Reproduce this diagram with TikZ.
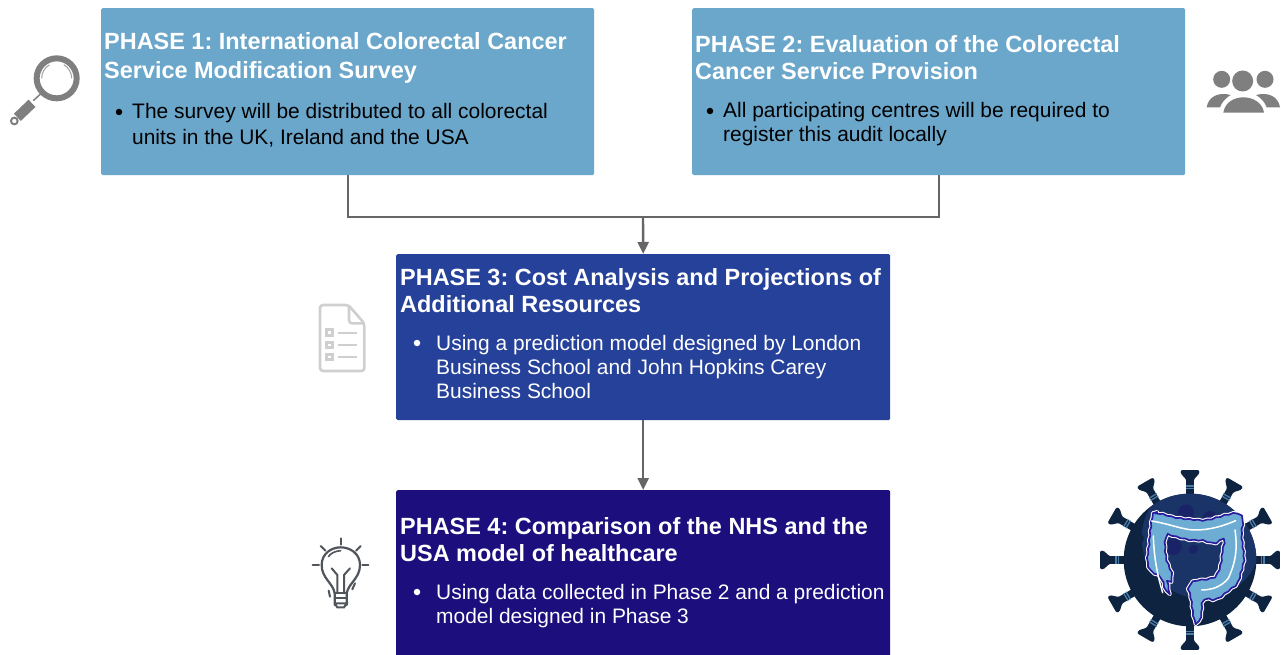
\documentclass[tikz,border=0pt]{standalone}
\usepackage{fontspec}
\setmainfont{Liberation Sans}
\usetikzlibrary{arrows.meta,decorations.pathmorphing}
\definecolor{lightbox}{HTML}{6BA6CB}
\definecolor{midbox}{HTML}{26419A}
\definecolor{darkbox}{HTML}{1C0E7C}
\definecolor{conn}{HTML}{666666}
\definecolor{icongrey}{HTML}{7F7F7F}
\definecolor{docgrey}{HTML}{CFCFCF}
\definecolor{bulbgrey}{HTML}{50555B}
\definecolor{virusdark}{HTML}{0E2340}
\definecolor{virusmid}{HTML}{1B3467}
\definecolor{virusspot}{HTML}{1A2268}
\definecolor{colonblue}{HTML}{6DADD3}
\definecolor{colonline}{HTML}{2A1C9C}
\tikzset{
  x=1pt,y=-1pt,
  phasebox/.style={rectangle,rounded corners=1.5pt,inner sep=0pt,anchor=north west},
  titletext/.style={inner sep=0pt,anchor=north west,align=left,font=\fontsize{23.45}{27}\selectfont\bfseries},
  bodytext/.style={inner sep=0pt,anchor=north west,align=left,font=\fontsize{20.95}{24}\selectfont},
  dotmark/.style={circle,inner sep=0pt,minimum size=6.5pt},
  connector/.style={draw=conn,line width=2.4pt},
  arrowed/.style={connector,-{Triangle[length=12pt,width=11pt]}},
  colonband/.style={line join=round,decorate,decoration={snake,amplitude=0.5pt,segment length=9pt}},
}
\frenchspacing
\begin{document}
\begin{tikzpicture}
\useasboundingbox (0,0) rectangle (1281,655);
\clip (0,0) rectangle (1281,655);
\fill[white] (0,0) rectangle (1281,655);
% boxes
\node[phasebox,fill=lightbox,minimum width=493pt,minimum height=167pt] (b1) at (101,8) {};
\node[phasebox,fill=lightbox,minimum width=493pt,minimum height=167pt] (b2) at (692,8) {};
\node[phasebox,fill=midbox,minimum width=494pt,minimum height=166pt] (b3) at (396,254) {};
\node[phasebox,fill=darkbox,minimum width=494pt,minimum height=175pt] (b4) at (396,490) {};
% connectors
\coordinate (m) at (643,217);
\draw[connector,line join=miter] (b1.south) |- (m) -| (b2.south);
\draw[arrowed] (m) -- (b3.north);
\draw[arrowed] (b3.south) -- (b4.north);
% texts
\node[titletext,white] (t1) at (104,32) {PHASE 1: International Colorectal Cancer\\[2pt]Service Modification Survey};
\node[dotmark,fill=black] (d1) at (119,112) {};
\node[bodytext,black,font=\fontsize{20.95}{26}\selectfont] (x1) at (132,103) {The survey will be distributed to all colorectal\\units in the UK, Ireland and the USA};
\node[titletext,white] (t2) at (695,35) {PHASE 2: Evaluation of the Colorectal\\Cancer Service Provision};
\node[dotmark,fill=black] (d2) at (710,111) {};
\node[bodytext,black] (x2) at (723,102) {All participating centres will be required to\\register this audit locally};
\node[titletext,white] (t3) at (400,268) {PHASE 3: Cost Analysis and Projections of\\Additional Resources};
\node[dotmark,fill=white] (d3) at (417,343) {};
\node[bodytext,white] (x3) at (436,335) {Using a prediction model designed by London\\Business School and John Hopkins Carey\\Business School};
\node[titletext,white] (t4) at (400,517) {PHASE 4: Comparison of the NHS and the\\USA model of healthcare};
\node[dotmark,fill=white] (d4) at (417,592) {};
\node[bodytext,white] (x4) at (436,584) {Using data collected in Phase 2 and a prediction\\model designed in Phase 3};
% magnifier
\begin{scope}[shift={(0,40)},x=0.3333pt,y=-0.3333pt]
  \draw[icongrey,line width=6pt] (170,115) circle (60);
  \draw[icongrey!70,line width=1.1pt] (125,115) arc (180:240:47);
  \draw[icongrey!70,line width=1.1pt] (215,115) arc (0:-60:47);
  \draw[icongrey,line width=1.5pt] (128,156) -- (100,182);
  \draw[icongrey,line width=10pt] (96,190) -- (52,232);
  \draw[icongrey,line width=2pt,fill=white] (43,243) circle (10);
\end{scope}
% people
\begin{scope}[shift={(1190,50)},x=0.3333pt,y=-0.3333pt,fill=icongrey]
  \fill (95,88) circle (8.5pt);
  \fill (225,88) circle (8.5pt);
  \fill (158,93) circle (10.5pt);
  \fill (50,172) .. controls (55,140) and (85,125) .. (122,135) .. controls (105,145) and (95,158) .. (90,172) -- cycle;
  \fill (270,172) .. controls (265,140) and (235,125) .. (198,135) .. controls (215,145) and (225,158) .. (230,172) -- cycle;
  \fill (100,188) .. controls (105,155) and (135,142) .. (160,142) .. controls (185,142) and (217,155) .. (222,188) -- cycle;
\end{scope}
% document
\begin{scope}[shift={(300,295)},x=0.3333pt,y=-0.3333pt]
  \draw[docgrey,line width=2.6pt,rounded corners=3pt,line join=round] (145,30) -- (60,30) -- (60,228) -- (193,228) -- (193,85) -- cycle;
  \draw[docgrey,line width=2.6pt,rounded corners=3pt] (147,32) -- (147,85) -- (193,85);
  \foreach \yy in {113,150,187}{
    \draw[docgrey,line width=3pt] (80,\yy-8) rectangle (96,\yy+8);
    \draw[docgrey,line width=2.2pt] (113,\yy) -- (172,\yy);
  }
\end{scope}
% bulb
\begin{scope}[shift={(300,530)},x=0.3333pt,y=-0.3333pt,draw=bulbgrey]
  \draw[line width=2.2pt,line cap=round] (104,225) -- (104,190) .. controls (100,160) and (65,145) .. (65,105) .. controls (65,70) and (95,52) .. (122,52) .. controls (150,52) and (180,70) .. (180,105) .. controls (180,145) and (145,160) .. (140,190) -- (140,225);
  \draw[line width=2pt,line cap=round] (95,115) -- (112,135) -- (112,190);
  \draw[line width=2pt,line cap=round] (150,115) -- (132,135) -- (132,190);
  \draw[line width=2pt] (104,190) -- (140,190);
  \draw[line width=2pt] (104,205) -- (140,205);
  \draw[line width=2pt] (104,220) -- (112,232) -- (132,232) -- (140,220) -- (104,220);
  \draw[line width=2pt,line cap=round] (122,25) -- (122,44);
  \draw[line width=2pt,line cap=round] (62,48) -- (76,62);
  \draw[line width=2pt,line cap=round] (182,48) -- (168,62);
  \draw[line width=2pt,line cap=round] (38,106) -- (57,106);
  \draw[line width=2pt,line cap=round] (187,106) -- (205,106);
  \draw[line width=2pt,line cap=round] (86,182) -- (90,200);
  \draw[line width=2pt,line cap=round] (157,178) -- (165,160);
  \draw[line width=1.6pt,line cap=round] (85,80) .. controls (92,70) and (105,63) .. (122,62);
\end{scope}
% virus
\begin{scope}[shift={(1080,450)},x=0.3333pt,y=-0.3333pt]
  \foreach \a in {0,30,...,330}{
    \begin{scope}[shift={(330,330)},rotate=\a]
      \draw[virusdark,line width=7.5pt] (190,0) -- (250,0);
      \fill[virusdark,rounded corners=2pt] (235,-11) .. controls (248,-14) and (255,-28) .. (270,-28) -- (270,28) .. controls (255,28) and (248,14) .. (235,11) -- cycle;
      \draw[colonblue!60!virusmid,line width=1.3pt] (214,-13) -- (214,13);
      \draw[colonblue!60!virusmid,line width=1.3pt] (222,-13) -- (222,13);
    \end{scope}
  }
  \fill[virusdark] (330,330) circle (199);
  \begin{scope}
    \clip (330,330) circle (199);
    \fill[virusmid] (365,265) circle (180);
  \end{scope}
  \fill[virusspot] (318,188) circle (24);
  \fill[virusspot] (280,290) circle (25);
  \fill[virusspot] (340,298) circle (14);
  \fill[virusspot] (390,205) circle (22);
  \fill[virusdark] (282,472) circle (20);
  \fill[virusdark] (200,365) circle (38);
  \fill[virusdark] (178,265) circle (14);
  \def\colonoutline{plot[smooth cycle,tension=0.55] coordinates {(205,195) (240,192) (270,200) (300,205) (330,208) (370,210) (410,200) (440,192) (470,190) (482,210) (478,250) (482,290) (485,330) (475,370) (465,400) (440,420) (415,440) (395,448) (370,445) (360,460) (358,490) (350,517) (338,515) (332,490) (325,440) (318,410) (335,390) (370,385) (400,375) (415,340) (420,300) (425,265) (395,280) (360,272) (320,270) (285,262) (250,255) (245,290) (250,330) (265,370) (262,395) (250,400) (255,435) (240,430) (225,390) (195,370) (185,340) (190,290) (195,240)}}
  \draw[white,line width=3.8pt,colonband] \colonoutline;
  \draw[colonline,line width=1.7pt,fill=colonblue,colonband] \colonoutline;
  \draw[white,line width=1.5pt,line cap=round] (248,428) .. controls (235,385) and (222,330) .. (220,258);
  \draw[white,line width=1.5pt,line cap=round] (215,213) .. controls (270,222) and (310,240) .. (345,240) .. controls (390,240) and (430,228) .. (467,212);
  \draw[white,line width=1.5pt,line cap=round] (465,240) .. controls (472,290) and (470,330) .. (445,385) .. controls (425,410) and (395,420) .. (365,420);
\end{scope}
\end{tikzpicture}
\end{document}
